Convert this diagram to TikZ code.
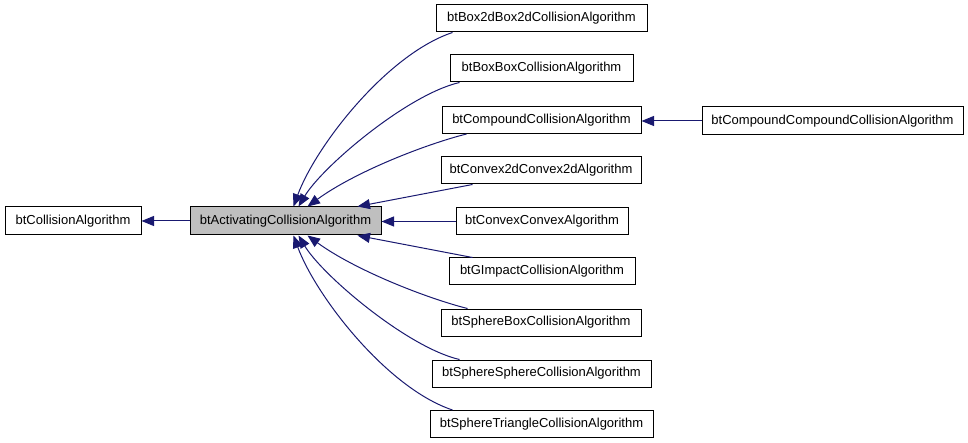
\documentclass[tikz,border=0pt]{standalone}
\usepackage{fontspec}
\setmainfont{Liberation Sans}
\usetikzlibrary{arrows.meta}
\definecolor{edgecol}{HTML}{191970}
\definecolor{actfill}{HTML}{BFBFBF}
\tikzset{
  cls/.style={draw=black, line width=1pt, fill=white, minimum height=27pt, inner sep=0pt,
    font=\fontsize{13}{15}\selectfont},
  conn/.style={draw=edgecol, line width=1pt, -{Triangle[length=12.5pt,width=10pt]}}
}
\begin{document}
\begin{tikzpicture}[x=1pt,y=-1pt]
\useasboundingbox (0,0) rectangle (968,443);
\node[cls, minimum width=136pt, minimum height=28pt] (coll) at (73,221) {btCollisionAlgorithm};
\node[cls, minimum width=191pt, minimum height=28pt, fill=actfill] (act) at (285.5,221) {btActivatingCollisionAlgorithm};
\node[cls, minimum width=211pt] (box2d) at (541.5,18.5) {btBox2dBox2dCollisionAlgorithm};
\node[cls, minimum width=183pt] (boxbox) at (541.5,68.5) {btBoxBoxCollisionAlgorithm};
\node[cls, minimum width=199pt] (compound) at (541.5,120) {btCompoundCollisionAlgorithm};
\node[cls, minimum width=200pt] (cvx2d) at (541,170.5) {btConvex2dConvex2dAlgorithm};
\node[cls, minimum width=172pt] (cvxcvx) at (542,221.5) {btConvexConvexAlgorithm};
\node[cls, minimum width=186pt] (gimpact) at (542,271.5) {btGImpactCollisionAlgorithm};
\node[cls, minimum width=200pt] (spherebox) at (541,322.5) {btSphereBoxCollisionAlgorithm};
\node[cls, minimum width=219pt] (spheresphere) at (541.5,373.5) {btSphereSphereCollisionAlgorithm};
\node[cls, minimum width=223pt] (spheretri) at (541.5,424) {btSphereTriangleCollisionAlgorithm};
\node[cls, minimum width=261pt, minimum height=28pt] (compcomp) at (832.5,121) {btCompoundCompoundCollisionAlgorithm};

\draw[conn] (act.west) -- (coll.east);
\draw[conn] (compcomp.west) -- (compound.east|-compcomp.west);
\draw[conn] (cvxcvx.west) -- (act.east|-cvxcvx.west);
\draw[conn] ([xshift=32pt]cvx2d.south west) -- ([xshift=72pt]act.north);
\draw[conn] ([xshift=24pt]gimpact.north west) -- ([xshift=72pt]act.south);
\draw[conn] ([xshift=17pt]box2d.south west) .. controls +(-66,22) and +(22,-60) .. ([xshift=8pt]act.north);
\draw[conn] ([xshift=10pt]boxbox.south west) .. controls +(-52,12) and +(24,-40) .. ([xshift=13pt]act.north);
\draw[conn] ([xshift=25pt]compound.south west) .. controls +(-40,10) and +(48,-35) .. ([xshift=22pt]act.north);
\draw[conn] ([xshift=27pt]spherebox.north west) .. controls +(-40,-10) and +(48,35) .. ([xshift=22pt]act.south);
\draw[conn] ([xshift=28pt]spheresphere.north west) .. controls +(-52,-12) and +(24,40) .. ([xshift=13pt]act.south);
\draw[conn] ([xshift=23pt]spheretri.north west) .. controls +(-66,-22) and +(22,60) .. ([xshift=8pt]act.south);
\end{tikzpicture}
\end{document}
